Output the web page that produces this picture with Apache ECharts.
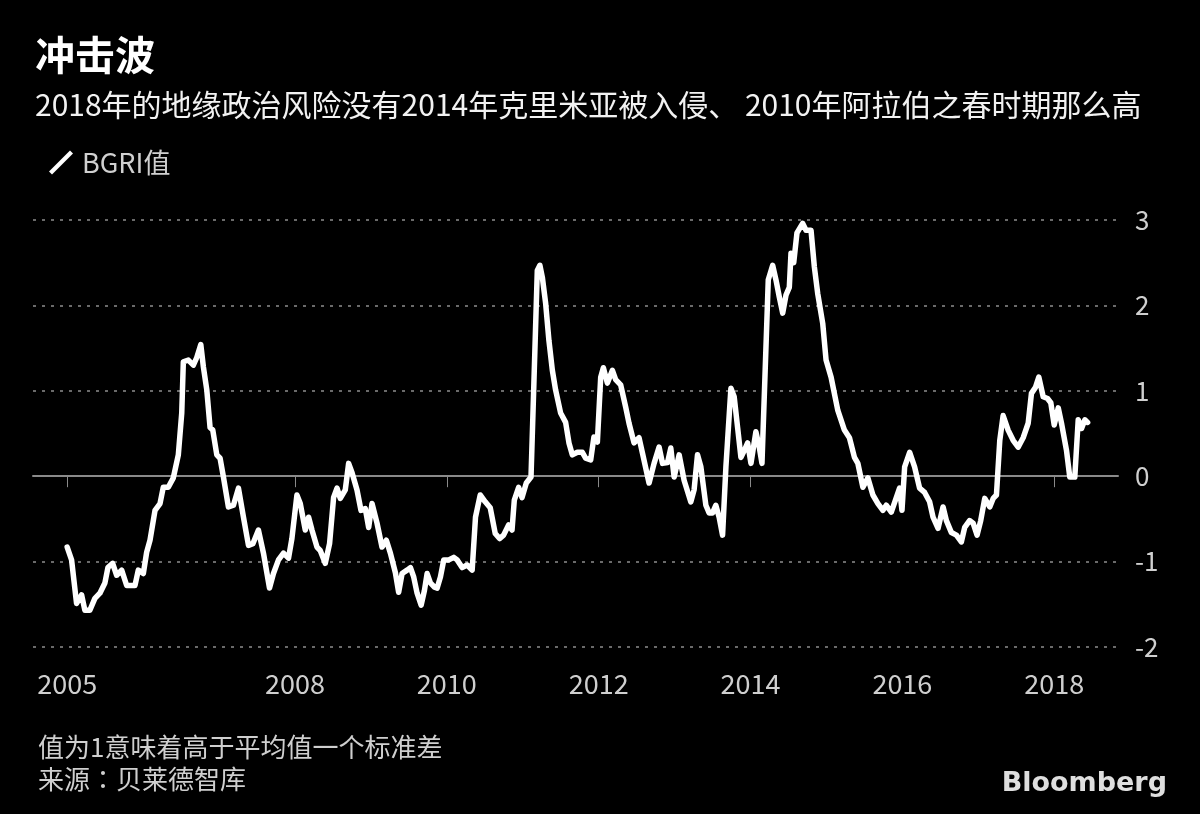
<!DOCTYPE html>
<html>
<head>
<meta charset="utf-8">
<script src="https://cdn.jsdelivr.net/npm/echarts@6/dist/echarts.min.js"></script>
<style>
  html, body { margin: 0; padding: 0; background: #000; }
  #chart { width: 1200px; height: 814px; }
</style>
</head>
<body>
<div id="chart"></div>
<script>
// ---- Data ----
const years = [
  2005.00, 2005.058, 2005.124, 2005.19, 2005.233, 2005.299, 2005.365, 2005.431, 2005.497, 2005.537,
  2005.599, 2005.652, 2005.718, 2005.784, 2005.893, 2005.937, 2006.003, 2006.047, 2006.091, 2006.157,
  2006.223, 2006.266, 2006.332, 2006.398, 2006.464, 2006.509, 2006.530, 2006.596, 2006.662, 2006.707,
  2006.760, 2006.794, 2006.839, 2006.882, 2006.918, 2006.971, 2007.014, 2007.058, 2007.124, 2007.190,
  2007.256, 2007.322, 2007.388, 2007.446, 2007.519, 2007.585, 2007.665, 2007.717, 2007.783, 2007.849,
  2007.915, 2007.960, 2008.026, 2008.070, 2008.136, 2008.180, 2008.224, 2008.290, 2008.333, 2008.399,
  2008.456, 2008.509, 2008.554, 2008.597, 2008.663, 2008.707, 2008.752, 2008.817, 2008.870, 2008.927,
  2008.971, 2009.015, 2009.081, 2009.147, 2009.204, 2009.257, 2009.323, 2009.366, 2009.411, 2009.477,
  2009.521, 2009.564, 2009.609, 2009.662, 2009.705, 2009.741, 2009.784, 2009.837, 2009.873, 2009.916,
  2009.960, 2010.026, 2010.092, 2010.137, 2010.202, 2010.268, 2010.334, 2010.378, 2010.440, 2010.506,
  2010.572, 2010.638, 2010.695, 2010.748, 2010.814, 2010.859, 2010.889, 2010.946, 2010.991, 2011.047,
  2011.109, 2011.147, 2011.192, 2011.226, 2011.258, 2011.301, 2011.345, 2011.390, 2011.433, 2011.499,
  2011.565, 2011.609, 2011.653, 2011.719, 2011.785, 2011.829, 2011.895, 2011.938, 2011.983, 2012.027,
  2012.062, 2012.115, 2012.181, 2012.224, 2012.290, 2012.356, 2012.400, 2012.466, 2012.532, 2012.577,
  2012.664, 2012.730, 2012.796, 2012.841, 2012.907, 2012.950, 2012.994, 2013.060, 2013.126, 2013.214,
  2013.257, 2013.302, 2013.346, 2013.412, 2013.455, 2013.500, 2013.543, 2013.587, 2013.632, 2013.676,
  2013.742, 2013.785, 2013.830, 2013.874, 2013.917, 2013.962, 2014.006, 2014.071, 2014.115, 2014.151,
  2014.190, 2014.234, 2014.292, 2014.335, 2014.379, 2014.424, 2014.467, 2014.511, 2014.533, 2014.569,
  2014.612, 2014.687, 2014.731, 2014.797, 2014.841, 2014.885, 2014.951, 2014.995, 2015.061, 2015.150,
  2015.237, 2015.303, 2015.369, 2015.414, 2015.480, 2015.546, 2015.612, 2015.678, 2015.744, 2015.788,
  2015.854, 2015.920, 2015.963, 2015.995, 2016.030, 2016.096, 2016.161, 2016.227, 2016.293, 2016.359,
  2016.404, 2016.470, 2016.536, 2016.580, 2016.646, 2016.712, 2016.777, 2016.821, 2016.885, 2016.932,
  2016.984, 2017.032, 2017.085, 2017.151, 2017.196, 2017.239, 2017.283, 2017.327, 2017.393, 2017.459,
  2017.525, 2017.591, 2017.657, 2017.700, 2017.753, 2017.797, 2017.855, 2017.912, 2017.955, 2018.000,
  2018.053, 2018.096, 2018.162, 2018.205, 2018.271, 2018.316, 2018.360, 2018.404, 2018.440
];
const bgri = [
  -0.83, -0.98, -1.49, -1.39, -1.57, -1.57, -1.43, -1.37, -1.25, -1.07,
  -1.02, -1.16, -1.10, -1.28, -1.28, -1.10, -1.14, -0.89, -0.75, -0.40,
  -0.32, -0.13, -0.13, -0.02, 0.25, 0.74, 1.34, 1.36, 1.30, 1.39,
  1.54, 1.28, 1.01, 0.57, 0.54, 0.25, 0.21, -0.01, -0.36, -0.34,
  -0.14, -0.48, -0.81, -0.79, -0.63, -0.90, -1.31, -1.14, -0.98, -0.90,
  -0.96, -0.73, -0.22, -0.32, -0.63, -0.48, -0.63, -0.83, -0.87, -1.02,
  -0.79, -0.25, -0.14, -0.26, -0.16, 0.15, 0.04, -0.16, -0.40, -0.38,
  -0.60, -0.32, -0.55, -0.83, -0.75, -0.90, -1.13, -1.36, -1.14, -1.10,
  -1.07, -1.18, -1.37, -1.51, -1.34, -1.14, -1.25, -1.30, -1.31, -1.18,
  -0.98, -0.98, -0.95, -0.98, -1.07, -1.04, -1.10, -0.48, -0.22, -0.30,
  -0.37, -0.67, -0.73, -0.69, -0.57, -0.63, -0.28, -0.13, -0.25, -0.08,
  -0.01, 1.09, 2.41, 2.47, 2.33, 2.03, 1.59, 1.24, 1.01, 0.74,
  0.63, 0.39, 0.25, 0.28, 0.28, 0.21, 0.19, 0.46, 0.40, 1.16,
  1.27, 1.09, 1.24, 1.13, 1.07, 0.81, 0.62, 0.39, 0.45, 0.27,
  -0.08, 0.15, 0.34, 0.15, 0.16, 0.33, -0.01, 0.25, -0.05, -0.30,
  -0.16, 0.25, 0.11, -0.34, -0.43, -0.43, -0.34, -0.48, -0.69, 0.11,
  1.03, 0.93, 0.57, 0.22, 0.30, 0.39, 0.15, 0.52, 0.34, 0.15,
  1.16, 2.30, 2.47, 2.30, 2.10, 1.91, 2.12, 2.21, 2.61, 2.50,
  2.85, 2.96, 2.88, 2.88, 2.45, 2.14, 1.79, 1.36, 1.16, 0.77,
  0.54, 0.45, 0.22, 0.15, -0.13, -0.02, -0.22, -0.32, -0.40, -0.34,
  -0.42, -0.25, -0.14, -0.40, 0.11, 0.28, 0.11, -0.14, -0.19, -0.30,
  -0.48, -0.61, -0.36, -0.52, -0.66, -0.69, -0.77, -0.60, -0.52, -0.55,
  -0.69, -0.52, -0.26, -0.36, -0.26, -0.22, 0.42, 0.71, 0.54, 0.42,
  0.34, 0.45, 0.62, 0.97, 1.04, 1.16, 0.93, 0.91, 0.86, 0.60,
  0.80, 0.62, 0.30, -0.01, -0.01, 0.66, 0.56, 0.66, 0.63
];
const yearTicks = [2005, 2008, 2010, 2012, 2014, 2016, 2018];
const seriesName = 'BGRI值';
const titleText = '冲击波';
const subtitleText = '2018年的地缘政治风险没有2014年克里米亚被入侵、 2010年阿拉伯之春时期那么高';
const noteText = '值为1意味着高于平均值一个标准差';
const sourceText = '来源：贝莱德智库';

const seriesData = years.map((y, i) => [y, bgri[i]]);

const CJK = '"Noto Sans CJK SC", "Noto Sans", sans-serif';
const CJK_TC = '"Noto Sans CJK TC", "Noto Sans CJK SC", sans-serif';
const chart = echarts.init(document.getElementById('chart'), null, { renderer: 'canvas' });

chart.setOption({
  backgroundColor: '#000',
  animation: false,
  textStyle: { fontFamily: CJK },
  title: [
    { text: titleText, left: 30, top: 30,
      textStyle: { color: '#fff', fontSize: 40, fontWeight: 'bold', fontFamily: CJK } },
    { text: subtitleText, left: 30, top: 85,
      textStyle: { color: '#f2f2f2', fontSize: 30, fontWeight: 'normal', fontFamily: CJK } },
    { text: noteText, left: 33, top: 729,
      textStyle: { color: '#cfcfcf', fontSize: 26, fontWeight: 'normal', fontFamily: CJK } },
    { text: sourceText, left: 33, top: 761,
      textStyle: { color: '#cfcfcf', fontSize: 26, fontWeight: 'normal', fontFamily: CJK_TC } },
    { text: 'Bloomberg', right: 28, top: 765,
      textStyle: { color: '#dedede', fontSize: 27, fontWeight: 'bold', fontFamily: '"DejaVu Sans", sans-serif' } }
  ],
  legend: {
    left: 44, top: 144,
    itemWidth: 26, itemHeight: 24, itemGap: 10,
    icon: 'path://M0,21 L3,24 L24,3 L21,0 Z',
    textStyle: { color: '#d0d0d0', fontSize: 27, fontFamily: CJK, padding: [0, 0, 0, 3] },
    data: [{ name: seriesName, itemStyle: { color: '#fff' } }]
  },
  grid: { left: 33, right: 82, top: 220, bottom: 167, containLabel: false, outerBoundsMode: 'none' },
  xAxis: {
    type: 'value',
    min: 2004.55,
    max: 2018.84,
    splitLine: { show: false },
    axisLine: { show: true, lineStyle: { color: '#8a8a8a', width: 2 } },
    axisTick: { show: true, customValues: yearTicks, length: 11, lineStyle: { color: '#8a8a8a', width: 1 } },
    axisLabel: { show: true, customValues: yearTicks, margin: 23, color: '#cfcfcf', fontSize: 27,
      fontFamily: CJK, formatter: v => String(Math.round(v)) }
  },
  yAxis: {
    type: 'value',
    position: 'right',
    min: -2, max: 3, interval: 1,
    axisLine: { show: false },
    axisTick: { show: false },
    axisLabel: { margin: 17, color: '#cfcfcf', fontSize: 26, fontFamily: CJK },
    splitLine: { show: true, lineStyle: { color: '#6a6a6a', width: 2, type: [3, 6] } }
  },
  series: [{
    name: seriesName,
    type: 'line',
    data: seriesData,
    showSymbol: false,
    symbol: 'none',
    smooth: false,
    lineStyle: { color: '#fff', width: 5.5, cap: 'round', join: 'round' },
    itemStyle: { color: '#fff' },
    z: 5,
    markLine: {
      silent: true,
      symbol: 'none',
      label: { show: false },
      lineStyle: { color: '#8a8a8a', width: 2, type: 'solid' },
      data: [{ yAxis: 0 }],
      z: 1
    }
  }]
});
</script>
</body>
</html>
